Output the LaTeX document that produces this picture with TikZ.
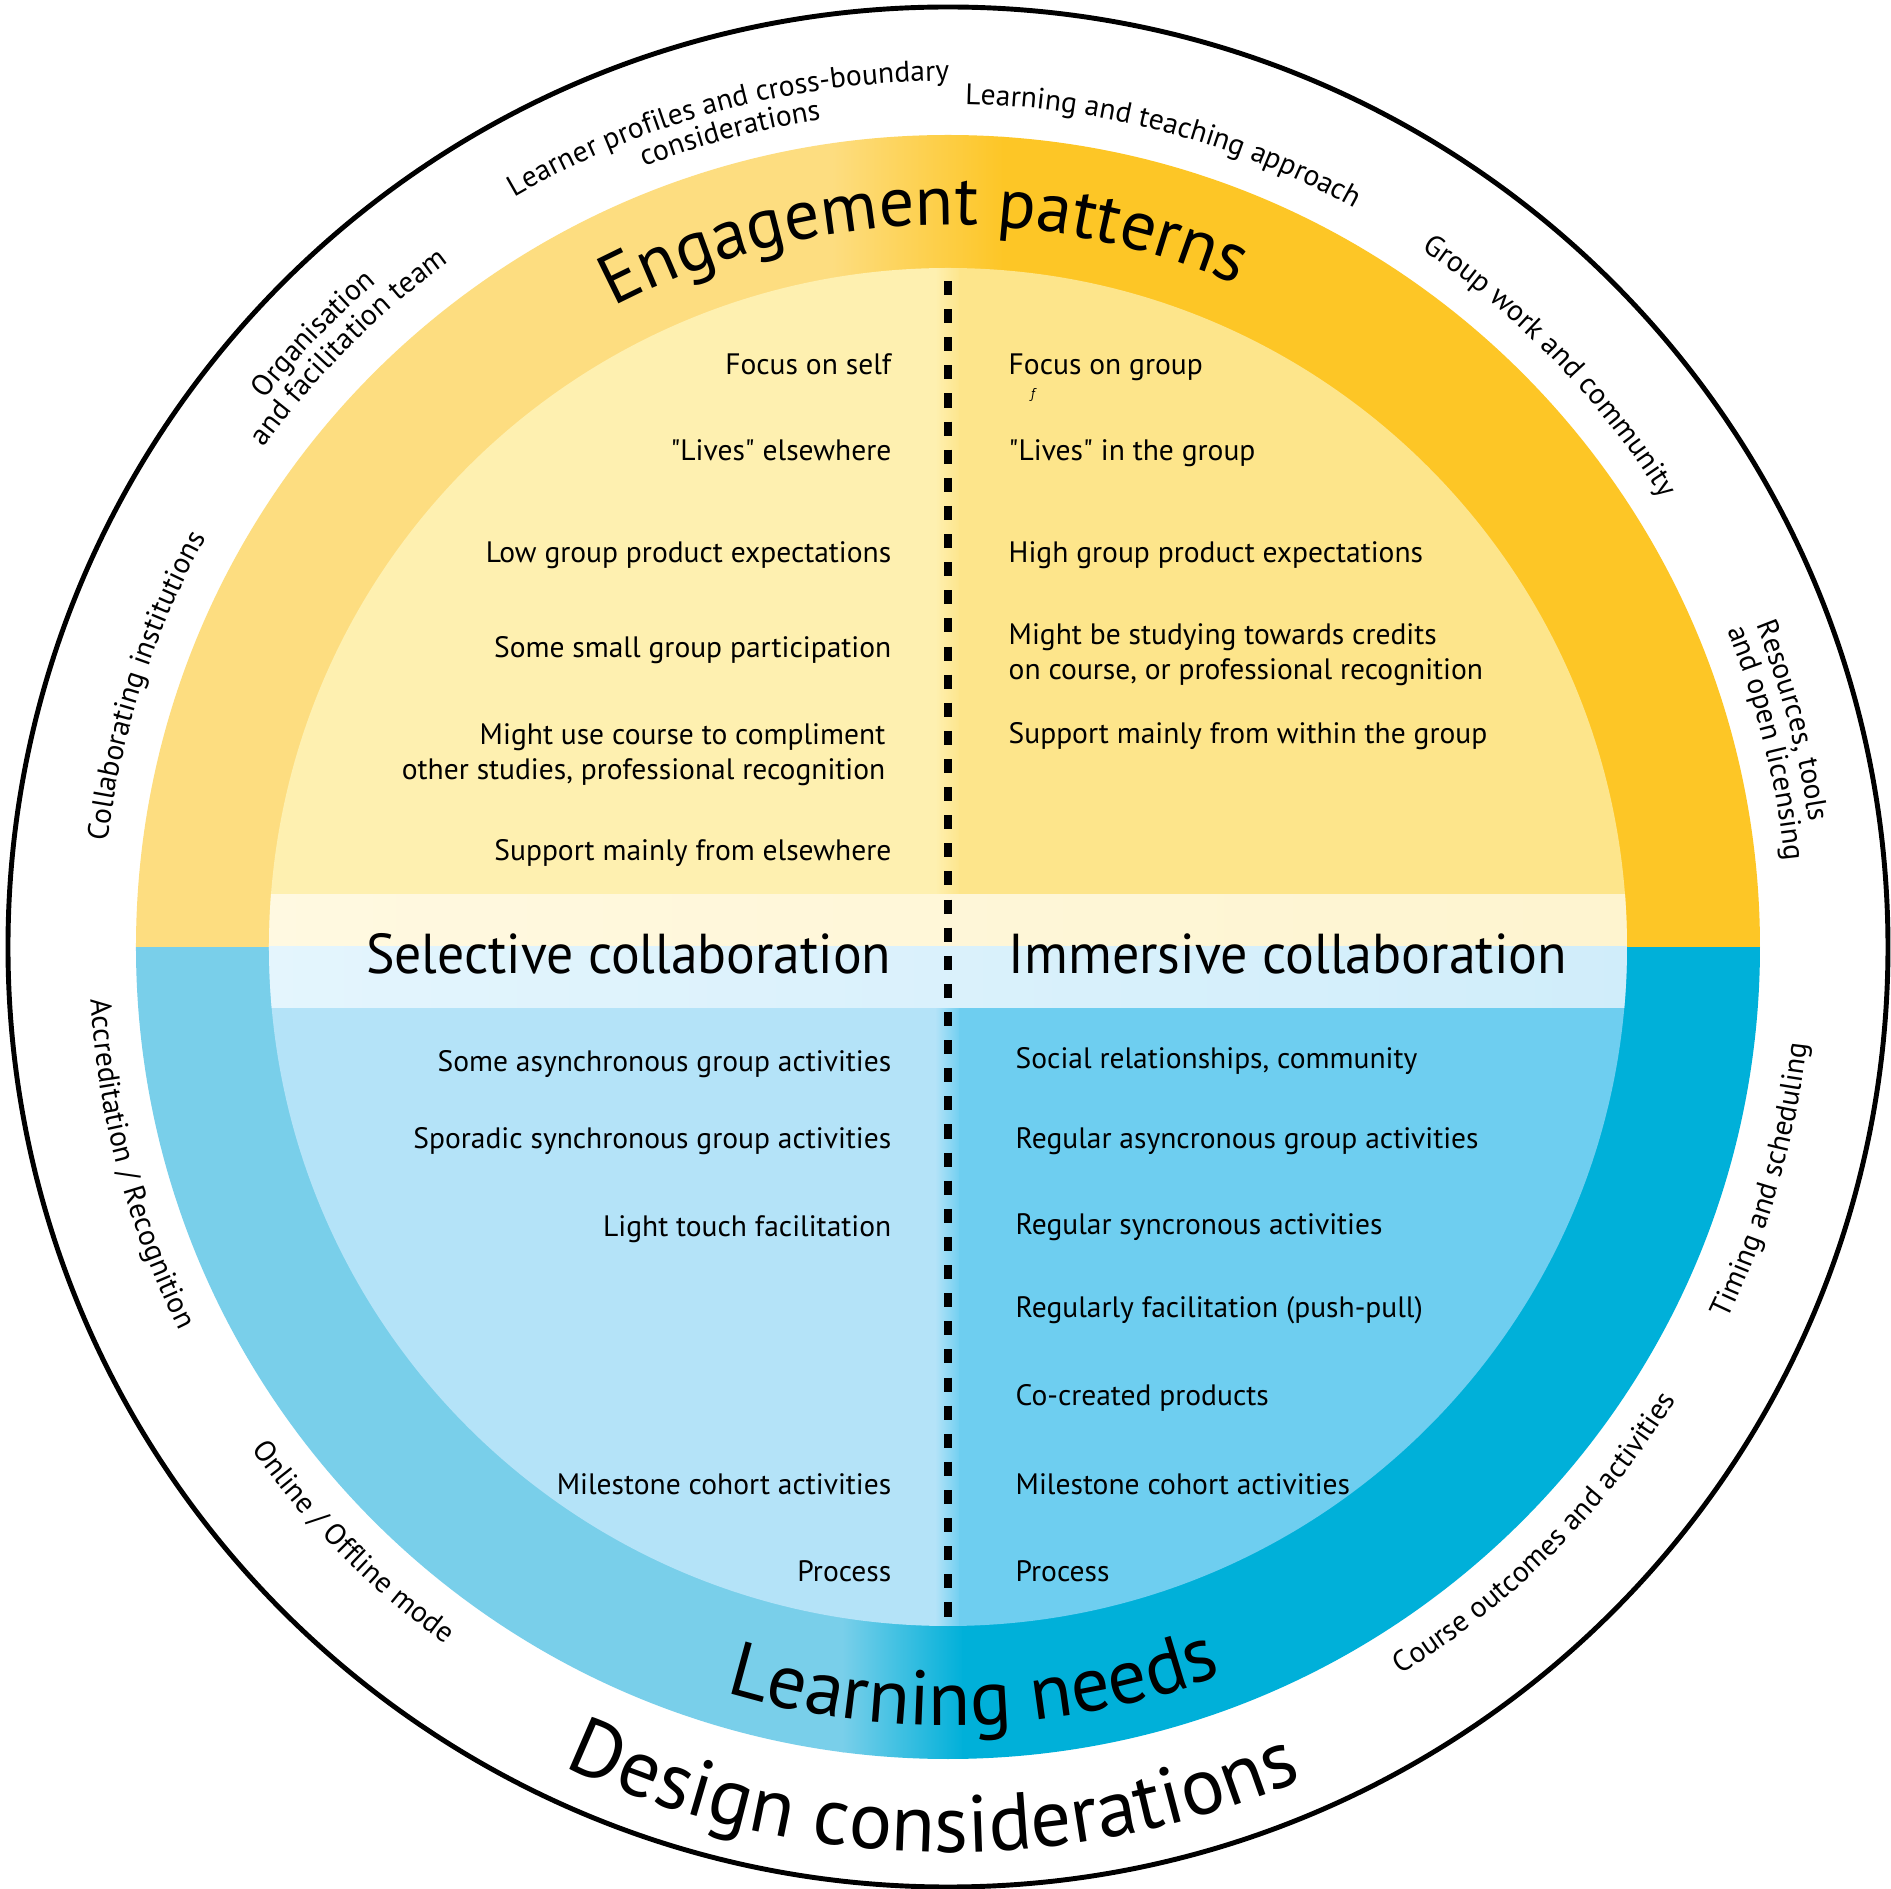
\documentclass[tikz,border=0pt]{standalone}
\usepackage{fontspec}
\setmainfont{PT Sans}
\usepackage{graphicx}
\usepackage{tikz}
\usetikzlibrary{decorations.text}

\definecolor{ringYL}{RGB}{253,221,128}
\definecolor{ringYR}{RGB}{253,198,38}
\definecolor{diskYL}{RGB}{254,240,176}
\definecolor{diskYR}{RGB}{253,229,139}
\definecolor{bandYL}{RGB}{255,249,225}
\definecolor{bandYR}{RGB}{254,244,207}
\definecolor{ringBL}{RGB}{121,207,234}
\definecolor{ringBR}{RGB}{0,176,217}
\definecolor{diskBL}{RGB}{180,227,248}
\definecolor{diskBR}{RGB}{110,206,240}
\definecolor{bandBL}{RGB}{228,245,253}
\definecolor{bandBR}{RGB}{208,237,250}

\newcommand\itemfont{\fontsize{8.4}{10}\selectfont}
\newcommand\headfont{\fontsize{16}{18}\selectfont}
\newcommand\lblfont{\fontsize{8.4}{10}\selectfont}
\newcommand\titlefont{\fontsize{20}{24}\selectfont}
\newcommand\needsfont{\fontsize{22}{26}\selectfont}
\newcommand\designfont{\fontsize{23}{27}\selectfont}
\newcommand\qq{\textquotedbl}

\tikzset{
  lefttxt/.style={anchor=base east, font=\itemfont, inner sep=0pt, align=right},
  righttxt/.style={anchor=base west, font=\itemfont, inner sep=0pt, align=left},
  arclbl/.style={decorate, decoration={text along path, text align=center, text={|\lblfont|#1}}},
}

\begin{document}
\begin{tikzpicture}[x=0.1mm, y=0.1mm]
    \useasboundingbox[fill=white] (-948,-942) rectangle (943,947);

    % outer boundary
    \draw[line width=1.4pt] (0,0) circle (940);

    % coloured ring
    \begin{scope}
        \clip (0,0) circle (812);
        \fill[ringYL] (-820,0) rectangle (-114,820);
        \shade[left color=ringYL, right color=ringYR] (-116,0) rectangle (56,820);
        \fill[ringYR] (54,0) rectangle (820,820);
        \fill[ringBL] (-820,-820) rectangle (-104,0);
        \shade[left color=ringBL, right color=ringBR] (-106,-820) rectangle (16,0);
        \fill[ringBR] (14,-820) rectangle (820,0);
    \end{scope}

    % inner disc and middle band
    \begin{scope}
        \clip (0,0) circle (679);
        \fill[diskYL] (-690,0) rectangle (-11,690);
        \shade[left color=diskYL, right color=diskYR] (-13,0) rectangle (13,690);
        \fill[diskYR] (11,0) rectangle (690,690);
        \fill[diskBL] (-690,-690) rectangle (-11,0);
        \shade[left color=diskBL, right color=diskBR] (-13,-690) rectangle (13,0);
        \fill[diskBR] (11,-690) rectangle (690,0);
        \shade[left color=bandYL, right color=bandYR] (-690,0) rectangle (690,52);
        \shade[left color=bandBL, right color=bandBR] (-690,-61) rectangle (690,0);
    \end{scope}

    % divider
    \coordinate (dtop) at (0,666);
    \coordinate (dbot) at (0,-679);
    \draw[line width=2pt, dash pattern=on 4pt off 4pt] (dtop) -- (dbot);

    % design considerations, top half
    \path[arclbl={Collaborating institutions}] (232:847) arc[start angle=232, end angle=92, radius=847];
    \path[arclbl={Organisation}] (206:876) arc[start angle=206, end angle=66, radius=876];
    \path[arclbl={and facilitation team}] (205:847) arc[start angle=205, end angle=65, radius=847];
    \path[arclbl={Learner profiles and cross-boundary}] (175:866) arc[start angle=175, end angle=35, radius=866];
    \path[arclbl={considerations}] (175:837) arc[start angle=175, end angle=35, radius=837];
    \path[arclbl={Learning and teaching approach}] (145:843) arc[start angle=145, end angle=5, radius=843];
    \path[arclbl={Group work and community}] (114:843) arc[start angle=114, end angle=-26, radius=843];
    \path[arclbl={Resources, tools}] (85:870) arc[start angle=85, end angle=-55, radius=870];
    \path[arclbl={and open licensing}] (84:841) arc[start angle=84, end angle=-56, radius=841];

    % design considerations, bottom half
    \path[arclbl={Accreditation / Recognition}] (125:859) arc[start angle=125, end angle=265, radius=859];
    \path[arclbl={Online / Offline mode}] (155:859) arc[start angle=155, end angle=295, radius=859];
    \path[arclbl={Course outcomes and activities}] (245:857) arc[start angle=245, end angle=385, radius=857];
    \path[arclbl={Timing and scheduling}] (274:864) arc[start angle=274, end angle=414, radius=864];

    % ring titles
    \path[decorate, decoration={text along path, text align=center,
        text={|\titlefont|Engagement patterns}}] (162:722) arc[start angle=162, end angle=22, radius=722];
    \path[decorate, decoration={text along path, text align=center,
        text={|\needsfont|Learning needs}}] (202:778) arc[start angle=202, end angle=342, radius=778];
    \path[decorate, decoration={text along path, text align=center,
        text={|\designfont|Design considerations}}] (199:905) arc[start angle=199, end angle=339, radius=905];

    % selective collaboration, top
    \node[lefttxt] (selfFocus) at (-56,572) {Focus on self};
    \node[lefttxt] (selfLives) at (-56,486) {\qq Lives\qq\ elsewhere};
    \node[lefttxt] (selfLow) at (-56,384) {Low group product expectations};
    \node[lefttxt] (selfSmall) at (-56,289) {Some small group participation};
    \node[lefttxt, anchor=east] (selfMight) at (-62,192) {Might use course to compliment\\other studies, professional recognition};
    \node[lefttxt] (selfSupport) at (-56,86) {Support mainly from elsewhere};

    % immersive collaboration, top
    \node[righttxt] (grpFocus) at (60,572) {Focus on group};
    \node[font=\rmfamily\fontsize{4}{4}\selectfont, inner sep=0pt] (grpMark) at (86,552) {\textit{f}};
    \node[righttxt] (grpLives) at (60,486) {\qq Lives\qq\ in the group};
    \node[righttxt] (grpHigh) at (60,384) {High group product expectations};
    \node[righttxt, anchor=west] (grpMight) at (60,292) {Might be studying towards credits\\on course, or professional recognition};
    \node[righttxt] (grpSupport) at (60,203) {Support mainly from within the group};

    % headings
    \node[lefttxt, font=\headfont] (selHead) at (-56,-27) {\scalebox{0.955}[1]{Selective collaboration}};
    \node[righttxt, font=\headfont] (immHead) at (60,-27) {\scalebox{0.96}[1]{Immersive collaboration}};

    % selective collaboration, bottom
    \node[lefttxt] (selAsync) at (-56,-125) {Some asynchronous group activities};
    \node[lefttxt] (selSporadic) at (-56,-202) {Sporadic synchronous group activities};
    \node[lefttxt] (selLight) at (-56,-290) {Light touch facilitation};
    \node[lefttxt] (selMilestone) at (-56,-547) {Milestone cohort activities};
    \node[lefttxt] (selProcess) at (-56,-634) {Process};

    % immersive collaboration, bottom
    \node[righttxt] (immSocial) at (67,-122) {Social relationships, community};
    \node[righttxt] (immAsync) at (67,-202) {Regular asyncronous group activities};
    \node[righttxt] (immSync) at (67,-288) {Regular syncronous activities};
    \node[righttxt] (immFacil) at (67,-371) {Regularly facilitation (push-pull)};
    \node[righttxt] (immCocreate) at (67,-459) {Co-created products};
    \node[righttxt] (immMilestone) at (67,-547) {Milestone cohort activities};
    \node[righttxt] (immProcess) at (67,-634) {Process};
\end{tikzpicture}
\end{document}
